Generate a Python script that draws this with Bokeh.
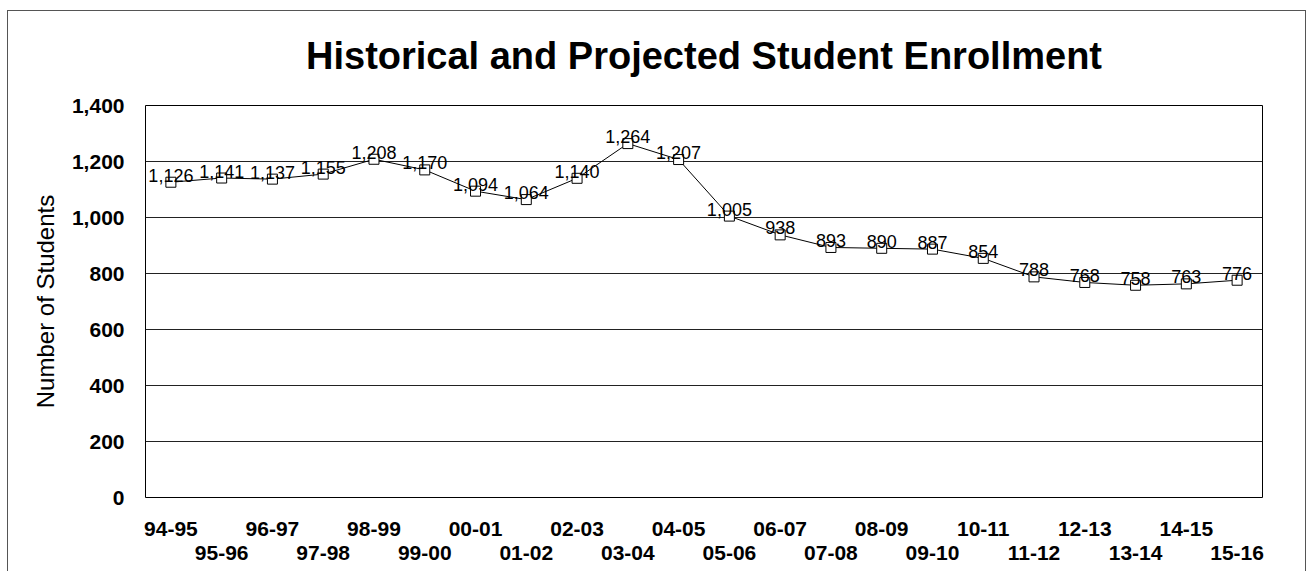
from bokeh.plotting import figure
from bokeh.models import ColumnDataSource, Range1d, FixedTicker, NumeralTickFormatter, LinearAxis
from bokeh.core.properties import value
from bokeh.embed import file_html
from bokeh.resources import INLINE

years = ["94-95", "95-96", "96-97", "97-98", "98-99", "99-00", "00-01", "01-02",
         "02-03", "03-04", "04-05", "05-06", "06-07", "07-08", "08-09", "09-10",
         "10-11", "11-12", "12-13", "13-14", "14-15", "15-16"]
enrollment = [1126, 1141, 1137, 1155, 1208, 1170, 1094, 1064, 1140, 1264, 1207,
              1005, 938, 893, 890, 887, 854, 788, 768, 758, 763, 776]
y_ticks = [0, 200, 400, 600, 800, 1000, 1200, 1400]
title_text = "Historical and Projected Student Enrollment"
y_label = "Number of Students"

idx = list(range(len(years)))
labels = [f"{v:,}" for v in enrollment]
src = ColumnDataSource(dict(x=idx, y=enrollment, lab=labels))

FONT = "Liberation Sans"

p = figure(x_range=Range1d(-0.5, len(years) - 0.5), y_range=Range1d(0, 1400),
           width=1310, height=571,
           min_border_left=145, min_border_right=48, min_border_top=105,
           min_border_bottom=74, output_backend="svg", toolbar_location=None,
           title=title_text, x_axis_location=None)
# thin outer frame (top, left, right) drawn behind the transparent canvas border
p.styles = {
    "background": "white",
    "box-shadow": ("inset 0 10px 0 0 white, inset 7px 0 0 0 white, "
                   "inset -4px 0 0 0 white, "
                   "inset 0 11px 0 0 #555, inset 8px 0 0 0 #555, "
                   "inset -5px 0 0 0 #555"),
}

p.title.text_font = FONT
p.title.text_font_size = "38px"
p.title.text_font_style = "bold"
p.title.align = "center"
p.title.text_color = "black"
p.title.standoff = 58

p.outline_line_color = "black"
p.outline_line_width = 1
p.background_fill_color = "white"
p.border_fill_color = None

p.xgrid.grid_line_color = None
p.ygrid.grid_line_color = "#222"
p.ygrid.grid_line_width = 1
p.ygrid.ticker = FixedTicker(ticks=y_ticks)

ya = p.yaxis[0]
ya.ticker = FixedTicker(ticks=y_ticks)
ya.formatter = NumeralTickFormatter(format="0,0")
ya.axis_line_color = None
ya.major_tick_line_color = None
ya.minor_tick_line_color = None
ya.major_label_text_font = FONT
ya.major_label_text_font_style = "bold"
ya.major_label_text_font_size = "21px"
ya.major_label_text_color = "black"
ya.major_label_standoff = 15
ya.axis_label = y_label
ya.axis_label_text_font = FONT
ya.axis_label_text_font_style = "normal"
ya.axis_label_text_font_size = "24px"
ya.axis_label_text_color = "black"
ya.axis_label_standoff = 10

even = [i for i in idx if i % 2 == 0]
odd = [i for i in idx if i % 2 == 1]
xa1 = LinearAxis(ticker=FixedTicker(ticks=even),
                 major_label_overrides={i: years[i] for i in even})
xa2 = LinearAxis(ticker=FixedTicker(ticks=odd),
                 major_label_overrides={i: years[i] for i in odd})
for ax in (xa1, xa2):
    ax.axis_line_color = None
    ax.major_tick_line_color = None
    ax.minor_tick_line_color = None
    ax.major_label_text_font = FONT
    ax.major_label_text_font_style = "bold"
    ax.major_label_text_font_size = "21px"
    ax.major_label_text_color = "black"
xa1.major_label_standoff = 18
xa2.major_label_standoff = 1
p.add_layout(xa1, "below")
p.add_layout(xa2, "below")

p.line("x", "y", source=src, line_color="black", line_width=1)
p.scatter("x", "y", source=src, marker="square", size=10, fill_color="white",
          line_color="black", line_width=1)
p.text("x", "y", text="lab", source=src, text_align="center",
       text_baseline="alphabetic", y_offset=-7, text_font=value(FONT),
       text_font_size="18px", text_color="black")

open("out.html", "w").write(file_html(p, INLINE))
